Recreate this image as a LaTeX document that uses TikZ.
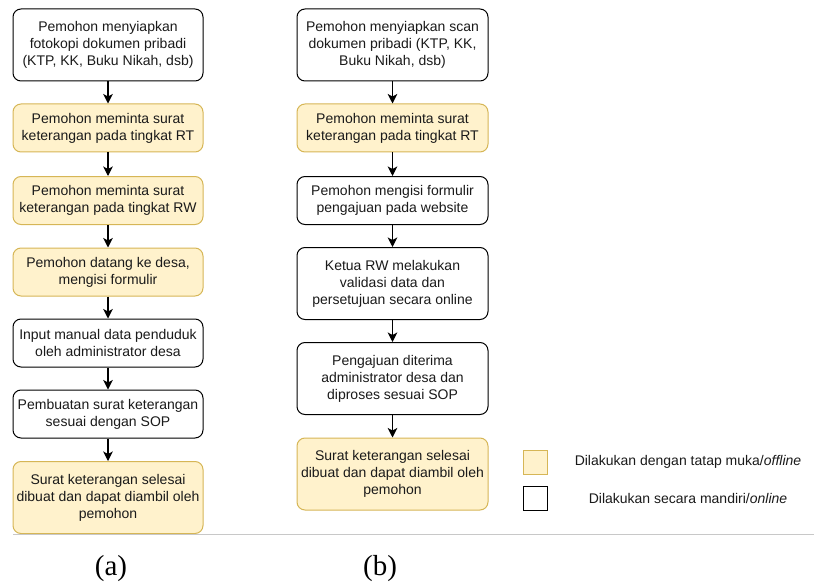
\documentclass[tikz,border=0pt]{standalone}
\usepackage{fontspec}
\setmainfont{Liberation Sans}
\newfontfamily\timesfont{Liberation Serif}
\usetikzlibrary{arrows.meta}
\definecolor{yfill}{HTML}{FFF2CC}
\definecolor{ystroke}{HTML}{D6B656}
\definecolor{txt}{HTML}{1A1A1A}
\definecolor{sepgray}{HTML}{C8C8C8}
\tikzset{
  basebox/.style={rectangle, rounded corners=8pt, align=center, inner sep=0pt,
    font=\fontsize{14pt}{17pt}\selectfont, text=txt, line width=1pt},
  wbox/.style={basebox, draw=black, fill=white},
  ybox/.style={basebox, draw=ystroke, fill=yfill},
  lw/.style={minimum width=190pt},
  rw/.style={minimum width=191pt},
  h2/.style={minimum height=48pt},
  h3/.style={minimum height=72pt},
  arr/.style={-{Stealth[length=9.5pt,width=9.5pt,inset=2.5pt]}, line width=1.1pt, draw=black},
  legsq/.style={rectangle, minimum width=24pt, minimum height=24pt, inner sep=0pt, line width=1pt},
  legtxt/.style={font=\fontsize{14pt}{17pt}\selectfont, text=txt, inner sep=0pt},
  caplabel/.style={font=\timesfont\fontsize{29pt}{33pt}\selectfont, anchor=base, inner sep=0pt}
}
\begin{document}
\begin{tikzpicture}[x=1pt,y=-1pt]
\useasboundingbox (0,0) rectangle (814,583);
% left column
\node[wbox,lw,h3] (L1) at (108,45) {Pemohon menyiapkan\\fotokopi dokumen pribadi\\(KTP, KK, Buku Nikah, dsb)};
\node[ybox,lw,h2] (L2) at (108,128) {Pemohon meminta surat\\keterangan pada tingkat RT};
\node[ybox,lw,h2] (L3) at (108,200.5) {Pemohon meminta surat\\keterangan pada tingkat RW};
\node[ybox,lw,h2] (L4) at (108,272) {Pemohon datang ke desa,\\mengisi formulir};
\node[wbox,lw,h2] (L5) at (108,343) {Input manual data penduduk\\oleh administrator desa};
\node[wbox,lw,h2] (L6) at (108,414) {Pembuatan surat keterangan\\sesuai dengan SOP};
\node[ybox,lw,h3] (L7) at (108,497.5) {Surat keterangan selesai\\dibuat dan dapat diambil oleh\\pemohon};
\foreach \a/\b in {L1/L2,L2/L3,L3/L4,L4/L5,L5/L6,L6/L7}
  \draw[arr] (\a.south) -- (\b.north);
% right column
\node[wbox,rw,h3] (R1) at (392.5,45) {Pemohon menyiapkan scan\\dokumen pribadi (KTP, KK,\\Buku Nikah, dsb)};
\node[ybox,rw,h2] (R2) at (392.5,128) {Pemohon meminta surat\\keterangan pada tingkat RT};
\node[wbox,rw,h2] (R3) at (392.5,200.5) {Pemohon mengisi formulir\\pengajuan pada website};
\node[wbox,rw,h3] (R4) at (392.5,283.5) {Ketua RW melakukan\\validasi data dan\\persetujuan secara online};
\node[wbox,rw,h3] (R5) at (392.5,378.5) {Pengajuan diterima\\administrator desa dan\\diproses sesuai SOP};
\node[ybox,rw,h3] (R6) at (392.5,474) {Surat keterangan selesai\\dibuat dan dapat diambil oleh\\pemohon};
\foreach \a/\b in {R1/R2,R2/R3,R3/R4,R4/R5,R5/R6}
  \draw[arr] (\a.south) -- (\b.north);
% legend
\node[legsq, draw=ystroke, fill=yfill] (LY) at (535.5,462) {};
\node[legsq, draw=black, fill=white] (LW) at (535.5,498) {};
\node[legtxt] (TY) at (688,462) {Dilakukan dengan tatap muka/\textit{offline}};
\node[legtxt] (TW) at (688,498) {Dilakukan secara mandiri/\textit{online}};
% separator
\coordinate (S1) at (13,534.5);
\coordinate (S2) at (814,534.5);
\draw[sepgray, line width=1pt] (S1) -- (S2);
% captions
\node[caplabel] (CA) at (111,575) {(a)};
\node[caplabel] (CB) at (380,575) {(b)};
\end{tikzpicture}
\end{document}
